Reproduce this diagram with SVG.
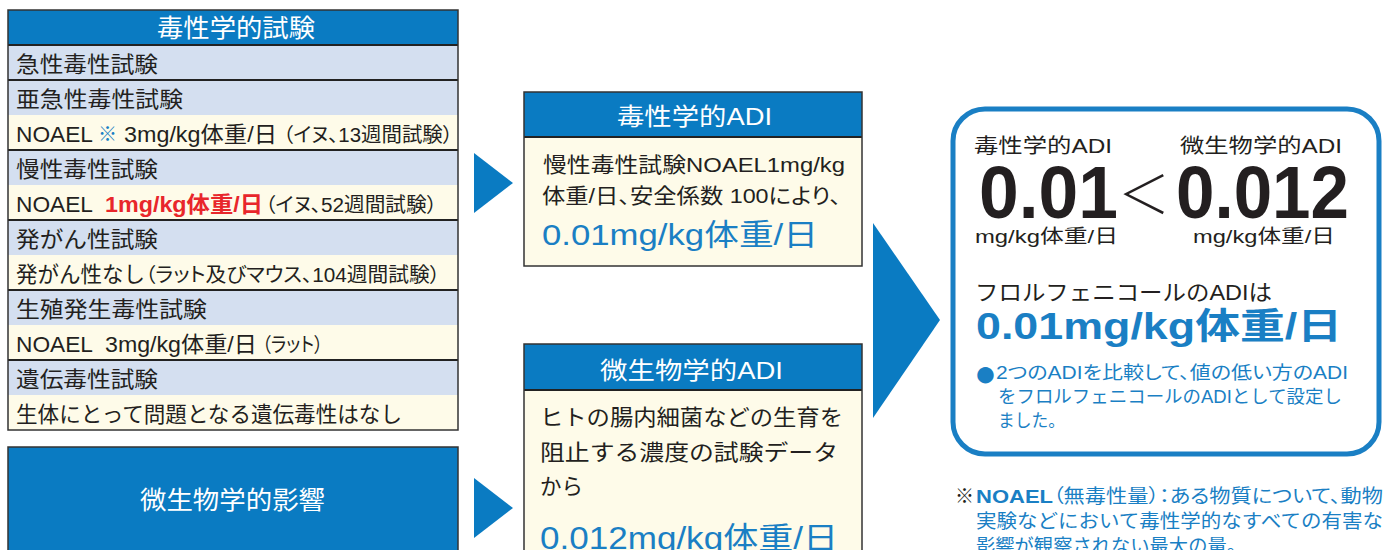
<svg xmlns="http://www.w3.org/2000/svg" width="1387" height="550" viewBox="0 0 1387 550">
<style>
text{font-family:"Liberation Sans","Noto Sans CJK JP",sans-serif;fill:#231f20}
.w{fill:#fff}
.b{fill:#1a7fc4}
.r{fill:#e8262b;font-weight:bold}
.rb{fill:#d4dff0}
.ry{fill:#fefbe9}
.hd{fill:#0a7bc2}
.bd{fill:none;stroke:#333;stroke-width:1.5}
.ln{stroke:#222;stroke-width:2}
.t{font-size:22px}
.s{font-size:20px;font-feature-settings:"palt"}
.p{font-feature-settings:"palt"}
.arr{fill:#0a7bc2}
</style>
<g id="toxTests">
<rect x="8" y="10" width="450" height="35" class="hd"/>
<rect x="8" y="45" width="450" height="35" class="rb"/>
<rect x="8" y="80" width="450" height="35" class="rb"/>
<rect x="8" y="115" width="450" height="35" class="ry"/>
<rect x="8" y="150" width="450" height="35" class="rb"/>
<rect x="8" y="185" width="450" height="35" class="ry"/>
<rect x="8" y="220" width="450" height="35" class="rb"/>
<rect x="8" y="255" width="450" height="35" class="ry"/>
<rect x="8" y="290" width="450" height="35" class="rb"/>
<rect x="8" y="325" width="450" height="35" class="ry"/>
<rect x="8" y="360" width="450" height="35" class="rb"/>
<rect x="8" y="395" width="450" height="35" class="ry"/>
<line x1="8" y1="45" x2="458" y2="45" class="ln"/>
<line x1="8" y1="80" x2="458" y2="80" class="ln"/>
<line x1="8" y1="150" x2="458" y2="150" class="ln"/>
<line x1="8" y1="220" x2="458" y2="220" class="ln"/>
<line x1="8" y1="290" x2="458" y2="290" class="ln"/>
<line x1="8" y1="360" x2="458" y2="360" class="ln"/>
<rect x="8" y="10" width="450" height="420" class="bd"/>
<text x="157" y="37" class="w" font-size="25" textLength="158" lengthAdjust="spacingAndGlyphs">毒性学的試験</text>
<text x="16" y="72" class="t" textLength="142" lengthAdjust="spacingAndGlyphs">急性毒性試験</text>
<text x="16" y="107" class="t" textLength="167" lengthAdjust="spacingAndGlyphs">亜急性毒性試験</text>
<text x="16" y="142" class="t" textLength="77" lengthAdjust="spacingAndGlyphs">NOAEL</text>
<text x="98" y="141" class="b" font-size="19">※</text>
<text x="124" y="142" class="t" textLength="153" lengthAdjust="spacingAndGlyphs">3mg/kg体重/日</text>
<text x="283" y="142" class="s" textLength="170" lengthAdjust="spacingAndGlyphs">（イヌ、13週間試験）</text>
<text x="16" y="177" class="t" textLength="142" lengthAdjust="spacingAndGlyphs">慢性毒性試験</text>
<text x="16" y="212" class="t" textLength="77" lengthAdjust="spacingAndGlyphs">NOAEL</text>
<text x="105" y="212" class="t r" textLength="158" lengthAdjust="spacingAndGlyphs">1mg/kg体重/日</text>
<text x="265" y="212" class="s" textLength="172" lengthAdjust="spacingAndGlyphs">（イヌ、52週間試験）</text>
<text x="16" y="247" class="t" textLength="142" lengthAdjust="spacingAndGlyphs">発がん性試験</text>
<text x="16" y="282" class="t" textLength="129" lengthAdjust="spacingAndGlyphs">発がん性なし</text>
<text x="145" y="282" class="s" textLength="295" lengthAdjust="spacingAndGlyphs">（ラット及びマウス、104週間試験）</text>
<text x="16" y="317" class="t" textLength="191" lengthAdjust="spacingAndGlyphs">生殖発生毒性試験</text>
<text x="16" y="352" class="t" textLength="77" lengthAdjust="spacingAndGlyphs">NOAEL</text>
<text x="105" y="352" class="t" textLength="152" lengthAdjust="spacingAndGlyphs">3mg/kg体重/日</text>
<text x="262" y="352" class="s" textLength="61" lengthAdjust="spacingAndGlyphs">（ラット）</text>
<text x="16" y="387" class="t" textLength="142" lengthAdjust="spacingAndGlyphs">遺伝毒性試験</text>
<text x="16" y="422" class="t" textLength="386" lengthAdjust="spacingAndGlyphs">生体にとって問題となる遺伝毒性はなし</text>
</g>
<g id="microEffect">
<rect x="8" y="447" width="450" height="120" class="hd" stroke="#333" stroke-width="1.5"/>
<text x="140" y="509" class="w" font-size="25" textLength="185" lengthAdjust="spacingAndGlyphs">微生物学的影響</text>
</g>
<g id="toxADI">
<rect x="524" y="92" width="338" height="174" class="ry"/>
<rect x="524" y="92" width="338" height="45" class="hd"/>
<line x1="524" y1="137" x2="862" y2="137" class="ln"/>
<rect x="524" y="92" width="338" height="174" class="bd"/>
<text x="617" y="125" class="w" font-size="24" textLength="155" lengthAdjust="spacingAndGlyphs">毒性学的ADI</text>
<text x="543" y="172" font-size="21" textLength="302" lengthAdjust="spacingAndGlyphs">慢性毒性試験NOAEL1mg/kg</text>
<text x="542" y="203" font-size="21" class="p" textLength="299" lengthAdjust="spacingAndGlyphs">体重/日、安全係数 100により、</text>
<text x="542" y="245" class="b" font-size="30" textLength="276" lengthAdjust="spacingAndGlyphs">0.01mg/kg体重/日</text>
</g>
<g id="microADI">
<rect x="524" y="344" width="338" height="220" class="ry"/>
<rect x="524" y="344" width="338" height="46" class="hd"/>
<line x1="524" y1="390" x2="862" y2="390" class="ln"/>
<rect x="524" y="344" width="338" height="220" class="bd"/>
<text x="600" y="379" class="w" font-size="24" textLength="183" lengthAdjust="spacingAndGlyphs">微生物学的ADI</text>
<text x="540" y="425" font-size="22" textLength="303" lengthAdjust="spacingAndGlyphs">ヒトの腸内細菌などの生育を</text>
<text x="540" y="460" font-size="22" textLength="298" lengthAdjust="spacingAndGlyphs">阻止する濃度の試験データ</text>
<text x="540" y="494" font-size="22" textLength="43" lengthAdjust="spacingAndGlyphs">から</text>
<text x="540" y="549" class="b" font-size="31" textLength="298" lengthAdjust="spacingAndGlyphs">0.012mg/kg体重/日</text>
</g>
<g id="result">
<rect x="953" y="109" width="426" height="345" rx="32" fill="#fff" stroke="#1a7fc4" stroke-width="5"/>
<text x="974" y="153" font-size="20" textLength="138" lengthAdjust="spacingAndGlyphs">毒性学的ADI</text>
<text x="1180" y="153" font-size="20" textLength="162" lengthAdjust="spacingAndGlyphs">微生物学的ADI</text>
<text x="979" y="218" font-size="74" font-weight="bold" textLength="139" lengthAdjust="spacingAndGlyphs">0.01</text>
<text x="1118" y="214" font-size="52" font-family="Noto Sans CJK JP" font-weight="300" textLength="52" lengthAdjust="spacingAndGlyphs">＜</text>
<text x="1176" y="218" font-size="74" font-weight="bold" textLength="173" lengthAdjust="spacingAndGlyphs">0.012</text>
<text x="975" y="243" font-size="19" fill="#333" textLength="143" lengthAdjust="spacingAndGlyphs">mg/kg体重/日</text>
<text x="1193" y="243" font-size="19" fill="#333" textLength="142" lengthAdjust="spacingAndGlyphs">mg/kg体重/日</text>
<text x="975" y="300" font-size="22" fill="#333" textLength="297" lengthAdjust="spacingAndGlyphs">フロルフェニコールのADIは</text>
<text x="976" y="339" class="b" font-size="36" font-weight="bold" textLength="366" lengthAdjust="spacingAndGlyphs">0.01mg/kg体重/日</text>
<text x="974" y="386" class="b" font-size="38" font-family="DejaVu Sans">●</text>
<text x="996" y="379" class="b p" font-size="18" textLength="352" lengthAdjust="spacingAndGlyphs">2つのADIを比較して、値の低い方のADI</text>
<text x="998" y="403" class="b" font-size="18" textLength="344" lengthAdjust="spacingAndGlyphs">をフロルフェニコールのADIとして設定し</text>
<text x="998" y="427" class="b" font-size="18" textLength="67" lengthAdjust="spacingAndGlyphs">ました。</text>
</g>
<g id="footnote">
<text x="955" y="503" font-size="19" fill="#555">※</text>
<text x="976" y="503" class="b" font-size="19" font-weight="bold" textLength="77" lengthAdjust="spacingAndGlyphs">NOAEL</text>
<text x="1053" y="503" class="b p" font-size="19" textLength="330" lengthAdjust="spacingAndGlyphs">（無毒性量）：ある物質について、動物</text>
<text x="976" y="528" class="b" font-size="19" textLength="407" lengthAdjust="spacingAndGlyphs">実験などにおいて毒性学的なすべての有害な</text>
<text x="976" y="553" class="b" font-size="19" textLength="270" lengthAdjust="spacingAndGlyphs">影響が観察されない最大の量。</text>
</g>
<g id="connectors">
<polygon points="474,153 513,183 474,213" class="arr"/>
<polygon points="474,478 513,508 474,538" class="arr"/>
<polygon points="873,223 940,320 873,418" class="arr"/>
</g>
</svg>
